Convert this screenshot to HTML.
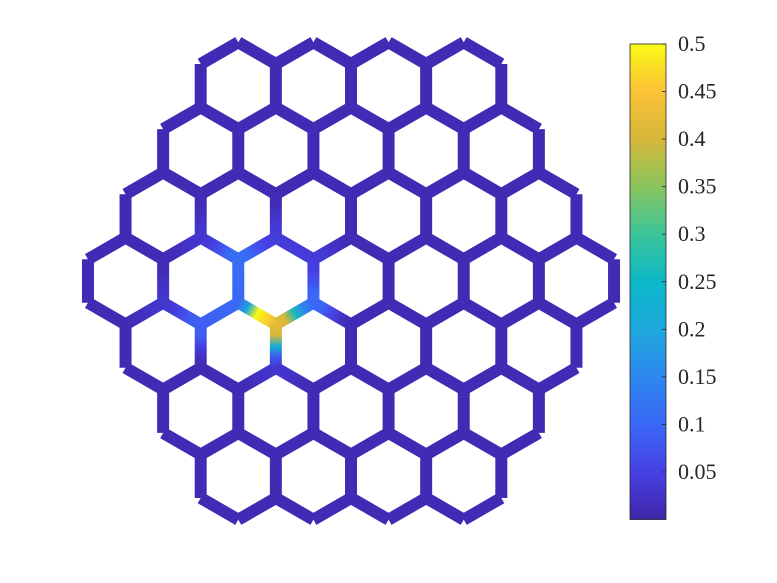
<!DOCTYPE html>
<html><head><meta charset="utf-8"><style>
html,body{margin:0;padding:0;background:#fff;}
svg{display:block;}
text{font-family:"Liberation Serif",serif;font-size:22px;fill:#262626;}
</style></head><body>
<svg id="chart" width="777" height="583" viewBox="0 0 777 583" xmlns="http://www.w3.org/2000/svg">
<defs id="defs"></defs>
<g id="edges"></g>
<g id="colorbar"></g>
</svg>
<script>
// ---- data ----
const rowCounts = [4,5,6,7,6,5,4];
const colorbarTicks = [0.05,0.1,0.15,0.2,0.25,0.3,0.35,0.4,0.45,0.5];
const tickLabels = ["0.05","0.1","0.15","0.2","0.25","0.3","0.35","0.4","0.45","0.5"];
// node values: [row, hexIndex, corner(0=top,1=upper-left,2=lower-left,3=bottom,4=lower-right,5=upper-right), value]
const nodeValues = [
  [3,2,2,0.44],
  [3,2,3,0.42],
  [3,2,1,0.11],
  [3,1,3,0.09],
  [4,1,0,0.1],
  [3,2,4,0.09],
  [3,3,2,0.1],
  [3,2,0,0.04],
  [3,1,2,0.03],
  [4,1,4,0.03],
  [3,3,1,0.04],
  [3,1,0,0.03]
];
const baseValue = 0.01;
const cmin = 0, cmax = 0.5;
// special edge midpoint values: [r,k,cornerA,cornerB,midValue]
const edgeMids = [[3,2,2,3,0.5]];

const NS="http://www.w3.org/2000/svg";
const cx0=351, cy0=281, s=43.4, dx=75.15, dy=65.1;
const defs=document.getElementById('defs');
const gE=document.getElementById('edges');
const gC=document.getElementById('colorbar');

const stops=[[0,[62,38,168]],[0.1,[71,64,228]],[0.2,[58,104,246]],[0.3,[45,136,238]],[0.4,[30,168,220]],[0.5,[11,184,200]],[0.6,[60,196,154]],[0.7,[138,196,92]],[0.8,[214,183,58]],[0.9,[252,194,56]],[1,[249,251,21]]];
function parula(v){
  let t=(v-cmin)/(cmax-cmin); t=Math.max(0,Math.min(1,t));
  for(let i=1;i<stops.length;i++){ if(t<=stops[i][0]){const a=stops[i-1],b=stops[i];const f=(t-a[0])/(b[0]-a[0]);
    const c=a[1].map((x,j)=>Math.round(x+(b[1][j]-x)*f));return `rgb(${c[0]},${c[1]},${c[2]})`;}}
  return 'rgb(249,251,21)';
}
function vert(r,k,c){
  const n=rowCounts[r];
  const hx=cx0+(k-(n-1)/2)*dx, hy=cy0+(r-3)*dy;
  const ang=[-90,-150,150,90,30,-30][c]*Math.PI/180;
  return [hx+s*Math.cos(ang), hy+s*Math.sin(ang)];
}
const key=p=>Math.round(p[0]/3)+','+Math.round(p[1]/3);
const vals={};
nodeValues.forEach(n=>{vals[key(vert(n[0],n[1],n[2]))]=n[3];});
const mids={};
edgeMids.forEach(e=>{const a=key(vert(e[0],e[1],e[2])),b=key(vert(e[0],e[1],e[3]));mids[a+'|'+b]=e[4];mids[b+'|'+a]=e[4];});
const val=p=>vals[key(p)]!==undefined?vals[key(p)]:baseValue;
const seen={};let gid=0;
rowCounts.forEach((n,r)=>{for(let k=0;k<n;k++){for(let c=0;c<6;c++){
  const p=vert(r,k,c),q=vert(r,k,(c+1)%6);
  const ek=[key(p),key(q)].sort().join('|');
  if(seen[ek])continue;seen[ek]=1;
  const va=val(p),vb=val(q);
  const mk=key(p)+'|'+key(q);
  const vm=mids[mk]!==undefined?mids[mk]:(va+vb)/2;
  const g=document.createElementNS(NS,'linearGradient');
  g.setAttribute('id','g'+gid);g.setAttribute('gradientUnits','userSpaceOnUse');
  g.setAttribute('x1',p[0]);g.setAttribute('y1',p[1]);g.setAttribute('x2',q[0]);g.setAttribute('y2',q[1]);
  const st=[[0,va],[0.25,va*0.75+vm*0.25+(va>vb?0.25*(va-vb)*0.3:0)],[0.5,vm],[0.75,vb*0.75+vm*0.25+(vb>va?0.25*(vb-va)*0.3:0)],[1,vb]];
  st.forEach(s2=>{const e=document.createElementNS(NS,'stop');e.setAttribute('offset',s2[0]);e.setAttribute('stop-color',parula(s2[1]));g.appendChild(e);});
  defs.appendChild(g);
  const l=document.createElementNS(NS,'line');
  
  
  l.setAttribute('x1',p[0]);l.setAttribute('y1',p[1]);l.setAttribute('x2',q[0]);l.setAttribute('y2',q[1]);
  l.setAttribute('stroke','url(#g'+gid+')');l.setAttribute('stroke-width','12');l.setAttribute('stroke-linecap','butt');
  gE.appendChild(l);gid++;
}}});

// colorbar
const bx=630,bw=36,by0=44,by1=519.5;
const yv=v=>by1-(v-cmin)/(cmax-cmin)*(by1-by0);
const cg=document.createElementNS(NS,'linearGradient');
cg.setAttribute('id','cbg');cg.setAttribute('x1','0');cg.setAttribute('y1','1');cg.setAttribute('x2','0');cg.setAttribute('y2','0');
for(let i=0;i<=20;i++){const e=document.createElementNS(NS,'stop');e.setAttribute('offset',i/20);e.setAttribute('stop-color',parula(cmin+(cmax-cmin)*i/20));cg.appendChild(e);}
defs.appendChild(cg);
const rect=document.createElementNS(NS,'rect');


rect.setAttribute('x',bx);rect.setAttribute('y',by0);rect.setAttribute('width',bw);rect.setAttribute('height',by1-by0);
rect.setAttribute('fill','url(#cbg)');rect.setAttribute('stroke','#262626');rect.setAttribute('stroke-width','0.8');
gC.appendChild(rect);
colorbarTicks.forEach((t,i)=>{
  const y=yv(t);
  const tk=document.createElementNS(NS,'line');
  
  
  tk.setAttribute('x1',bx+bw-4);tk.setAttribute('x2',bx+bw);tk.setAttribute('y1',y);tk.setAttribute('y2',y);
  tk.setAttribute('stroke','#262626');tk.setAttribute('stroke-width','0.8');
  gC.appendChild(tk);
  const tx=document.createElementNS(NS,'text');
  
  
  tx.setAttribute('x',678);tx.setAttribute('y',y+7);tx.textContent=tickLabels[i];
  gC.appendChild(tx);
});
</script>
</body></html>
